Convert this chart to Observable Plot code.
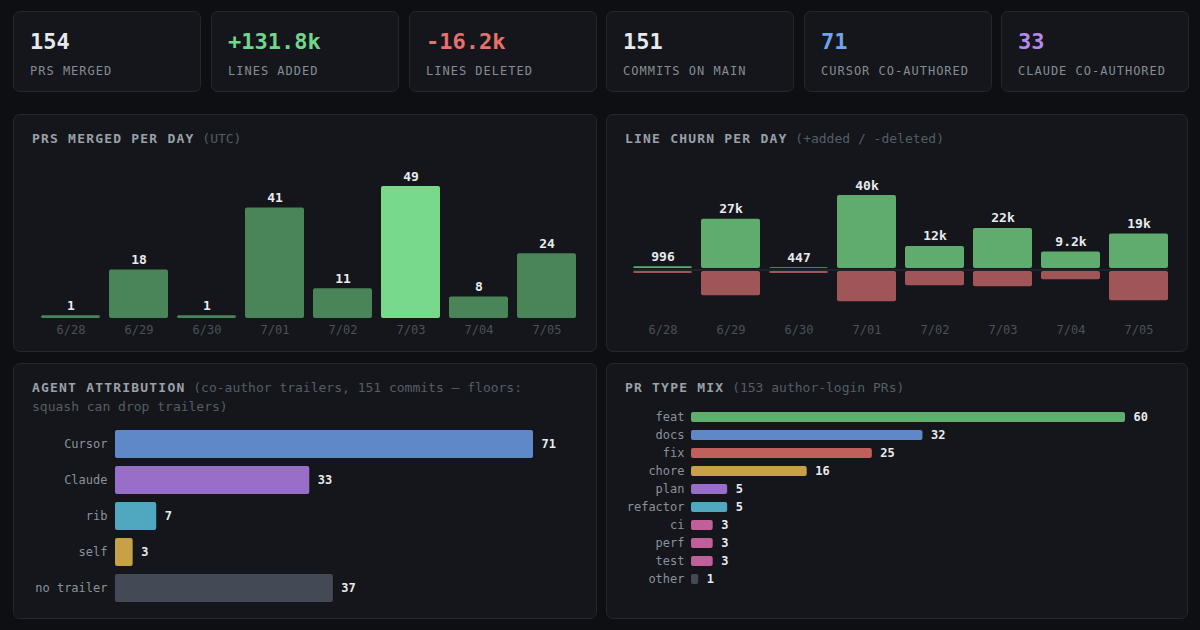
<!DOCTYPE html>
<html><head><meta charset="utf-8">
<script src="https://cdn.jsdelivr.net/npm/d3@7"></script>
<script src="https://cdn.jsdelivr.net/npm/@observablehq/plot@0.6"></script>
<style>
html,body{margin:0;padding:0;background:#0d0f13;}
#root{position:relative;width:1200px;height:630px;overflow:hidden;font-family:"DejaVu Sans Mono",monospace;}
.card,.panel{position:absolute;box-sizing:border-box;background:#14161b;border:1px solid #24272e;border-radius:7px;}
.card{top:11px;height:81px;width:188px;}
.card .num{position:absolute;left:16px;top:16px;font-size:22px;font-weight:bold;line-height:28px;white-space:nowrap;}
.card .lbl{position:absolute;left:16px;top:51px;font-size:12px;letter-spacing:1px;color:#868c95;line-height:16px;white-space:nowrap;}
.title{position:absolute;left:18px;top:14px;font-size:13px;line-height:19px;color:#9aa0a8;white-space:nowrap;}
.title b{letter-spacing:1.2px;}
.title span{color:#565d66;}
.chart{position:absolute;}
.chart svg{overflow:visible;}
</style></head>
<body><div id="root"></div>
<script>
// ---- data ----
const statValues = ["154", "+131.8k", "-16.2k", "151", "71", "33"];
const statLabels = ["PRS MERGED", "LINES ADDED", "LINES DELETED", "COMMITS ON MAIN", "CURSOR CO-AUTHORED", "CLAUDE CO-AUTHORED"];
const days = ["6/28", "6/29", "6/30", "7/01", "7/02", "7/03", "7/04", "7/05"];
const prsPerDay = [1, 18, 1, 41, 11, 49, 8, 24];
const linesAdded = [996, 27300, 447, 40400, 12200, 22200, 9200, 19060];
const linesDeleted = [260, 3130, 260, 3900, 1850, 1980, 1080, 3760];
const agents = ["Cursor", "Claude", "rib", "self", "no trailer"];
const agentCounts = [71, 33, 7, 3, 37];
const prTypes = ["feat", "docs", "fix", "chore", "plan", "refactor", "ci", "perf", "test", "other"];
const prTypeCounts = [60, 32, 25, 16, 5, 5, 3, 3, 3, 1];

// ---- styles ----
const statColors = ["#e6e8ec", "#72d68a", "#e8716b", "#e6e8ec", "#6ea5ec", "#b58aec"];
const agentColors = ["#5e88c8", "#986ec8", "#50a8c0", "#c8a046", "#444a55"];
const typeColors = ["#5fae6e", "#5e88c8", "#c0605e", "#c8a046", "#986ec8", "#50a8c0", "#c0609a", "#c0609a", "#c0609a", "#444a55"];
const FONT = "DejaVu Sans Mono, monospace";
const LABEL = "#e8eaed";

const root = document.getElementById("root");
function el(tag, cls, parent, html) { const e = document.createElement(tag); if (cls) e.className = cls; if (html != null) e.innerHTML = html; parent.appendChild(e); return e; }

// stat cards
const cardLefts = [13, 211, 409, 606, 804, 1001];
statValues.forEach((v, i) => {
  const c = el("div", "card", root);
  c.style.left = cardLefts[i] + "px";
  const n = el("div", "num", c); n.textContent = v; n.style.color = statColors[i];
  const l = el("div", "lbl", c); l.textContent = statLabels[i];
});

// panels
function panel(left, top, w, h, titleHtml) {
  const p = el("div", "panel", root);
  Object.assign(p.style, {left: left + "px", top: top + "px", width: w + "px", height: h + "px"});
  el("div", "title", p, titleHtml);
}
panel(13, 114, 584, 238, "<b>PRS MERGED PER DAY</b> <span>(UTC)</span>");
panel(606, 114, 582, 238, "<b>LINE CHURN PER DAY</b> <span>(+added / -deleted)</span>");
panel(13, 363, 584, 256, "<b>AGENT ATTRIBUTION</b> <span>(co-author trailers, 151 commits — floors:<br>squash can drop trailers)</span>");
panel(606, 363, 582, 256, "<b>PR TYPE MIX</b> <span>(153 author-login PRs)</span>");

function mount(svg, left, top) {
  const d = el("div", "chart", root);
  d.style.left = left + "px"; d.style.top = top + "px";
  d.appendChild(svg);
}
const baseStyle = (color) => ({background: "transparent", color, fontFamily: FONT, fontSize: "12px", overflow: "visible"});
const fmtK = v => v < 1000 ? String(v) : v < 10000 ? (v / 1000).toFixed(1) + "k" : Math.round(v / 1000) + "k";
const PAD = 9 / 68;

// PRs merged per day
const prData = days.map((d, i) => ({day: d, n: prsPerDay[i]}));
const maxPr = d3.max(prsPerDay);
mount(Plot.plot({
  width: 584, height: 195, marginLeft: 28, marginRight: 21, marginTop: 36, marginBottom: 27,
  style: baseStyle("#4b515a"),
  x: {type: "band", domain: days, paddingInner: PAD, paddingOuter: 0, tickSize: 0, tickPadding: 7, label: null},
  y: {domain: [0, 49], axis: null},
  color: {type: "identity"},
  marks: [
    Plot.barY(prData, {x: "day", y: "n", fill: d => d.n === maxPr ? "#78d98a" : "#4a855a", rx: 2}),
    Plot.text(prData, {x: "day", y: "n", text: d => String(d.n), dy: -6, lineAnchor: "bottom", fill: LABEL, fontWeight: "bold", fontSize: 13})
  ]
}), 13, 150);

// Line churn: added (top) and deleted (bottom)
const churn = days.map((d, i) => ({day: d, added: linesAdded[i], deleted: linesDeleted[i]}));
mount(Plot.plot({
  width: 582, height: 120, marginLeft: 27, marginRight: 20, marginTop: 45, marginBottom: 2,
  style: baseStyle("#4b515a"),
  x: {type: "band", domain: days, paddingInner: PAD, paddingOuter: 0, axis: null},
  y: {domain: [0, 40400], axis: null},
  marks: [
    Plot.ruleY([0], {stroke: "#2b3038", dy: 1.5}),
    Plot.barY(churn, {x: "day", y: "added", fill: "#5fac6e", rx: 2}),
    Plot.text(churn, {x: "day", y: "added", text: d => fmtK(d.added), dy: -6, lineAnchor: "bottom", fill: LABEL, fontWeight: "bold", fontSize: 13})
  ]
}), 606, 150);
mount(Plot.plot({
  width: 582, height: 74, marginLeft: 27, marginRight: 20, marginTop: 0, marginBottom: 43,
  style: baseStyle("#4b515a"),
  x: {type: "band", domain: days, paddingInner: PAD, paddingOuter: 0, tickSize: 0, tickPadding: 23, label: null},
  y: {domain: [0, 4000], reverse: true, axis: null},
  marks: [
    Plot.barY(churn, {x: "day", y: "deleted", fill: "#a05558", rx: 2})
  ]
}), 606, 271);

// Agent attribution
const agentData = agents.map((a, i) => ({name: a, n: agentCounts[i], c: agentColors[i]}));
mount(Plot.plot({
  width: 584, height: 200, marginLeft: 102, marginRight: 64, marginTop: 7, marginBottom: 5,
  style: baseStyle("#8b919a"),
  x: {domain: [0, 71], axis: null},
  y: {type: "band", domain: agents, padding: 0.22, tickSize: 0, tickPadding: 8, label: null},
  color: {type: "identity"},
  marks: [
    Plot.barX(agentData, {x: "n", y: "name", fill: "c", rx: 2}),
    Plot.text(agentData, {x: "n", y: "name", text: d => String(d.n), dx: 8, textAnchor: "start", fill: LABEL, fontWeight: "bold", fontSize: 12})
  ]
}), 13, 415);

// PR type mix
const typeData = prTypes.map((t, i) => ({name: t, n: prTypeCounts[i], c: typeColors[i]}));
mount(Plot.plot({
  width: 582, height: 205, marginLeft: 85, marginRight: 63, marginTop: 8, marginBottom: 7,
  style: baseStyle("#8b919a"),
  x: {domain: [0, 60], axis: null},
  y: {type: "band", domain: prTypes, padding: 0.42, tickSize: 0, tickPadding: 7, label: null},
  color: {type: "identity"},
  marks: [
    Plot.barX(typeData, {x: "n", y: "name", fill: "c", rx: 2}),
    Plot.text(typeData, {x: "n", y: "name", text: d => String(d.n), dx: 8, textAnchor: "start", fill: LABEL, fontWeight: "bold", fontSize: 12})
  ]
}), 606, 395);
</script>
</body></html>
